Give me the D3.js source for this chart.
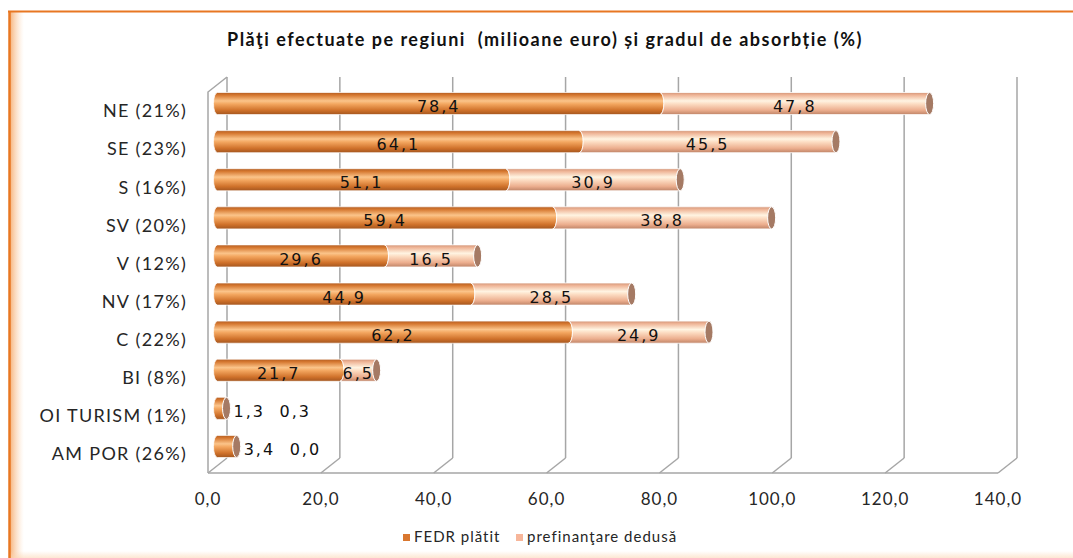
<!DOCTYPE html>
<html>
<head>
<meta charset="utf-8">
<script src="https://cdn.jsdelivr.net/npm/d3@7"></script>
<style>
  body { margin: 0; background: #fff; }
  svg { display: block; }
  text { white-space: pre; }
  .cat { font-family: Lato, "Liberation Sans", sans-serif; font-size: 18px; letter-spacing: 1.3px; fill: #262626; }
  .tick { font-family: Lato, "Liberation Sans", sans-serif; font-size: 17px; letter-spacing: 1px; fill: #262626; }
  .val { font-family: "DejaVu Sans", Verdana, sans-serif; font-size: 16px; letter-spacing: 2px; fill: #111; }
  .title { font-family: Lato, "Liberation Sans", sans-serif; font-size: 18px; font-weight: 700; letter-spacing: 1.5px; fill: #111; }
  .legend { font-family: Lato, "Liberation Sans", sans-serif; font-size: 15px; letter-spacing: 1px; fill: #262626; }
</style>
</head>
<body>
<svg id="chart" width="1073" height="558"></svg>
<script>
// data
const categories = ["NE (21%)", "SE (23%)", "S (16%)", "SV (20%)", "V (12%)",
                    "NV (17%)", "C (22%)", "BI (8%)", "OI TURISM (1%)", "AM POR (26%)"];
const fedrPlatit = [78.4, 64.1, 51.1, 59.4, 29.6, 44.9, 62.2, 21.7, 1.3, 3.4];
const prefinantare = [47.8, 45.5, 30.9, 38.8, 16.5, 28.5, 24.9, 6.5, 0.3, 0.0];
const xTicks = [0, 20, 40, 60, 80, 100, 120, 140];
const seriesNames = ["FEDR plătit", "prefinanţare dedusă"];
const title = "Plăţi efectuate pe regiuni  (milioane euro) și gradul de absorbție (%)";

const svg = d3.select("#chart");
const W = 1073, H = 558;

// back wall box and depth offset of the 3d look
const wall = {left: 227, right: 1017, top: 77, bottom: 458};
const depth = {dx: -19, dy: 15};

const x = d3.scaleLinear().domain([0, 140]).range([wall.left, wall.right]);
const y = d3.scaleBand().domain(categories).range([wall.top, wall.bottom])
  .paddingInner(0.42).paddingOuter(0.21);

const fmt = v => d3.format(".1f")(v).replace(".", ",");

// frame
const defs = svg.append("defs");
const lg = defs.append("linearGradient").attr("id", "frameL");
lg.append("stop").attr("offset", "0%").attr("stop-color", "#f4a15c").attr("stop-opacity", 0.8);
lg.append("stop").attr("offset", "100%").attr("stop-color", "#fbd7b5").attr("stop-opacity", 0);
const bg = defs.append("linearGradient").attr("id", "frameB").attr("x1", 0).attr("y1", 1).attr("x2", 0).attr("y2", 0);
bg.append("stop").attr("offset", "0%").attr("stop-color", "#fbd7b5").attr("stop-opacity", 0.6);
bg.append("stop").attr("offset", "100%").attr("stop-color", "#fbd7b5").attr("stop-opacity", 0);

svg.append("rect").attr("x", 10).attr("y", 12).attr("width", 14).attr("height", H - 12).attr("fill", "url(#frameL)");
svg.append("rect").attr("x", 10).attr("y", H - 7).attr("width", W - 10).attr("height", 7).attr("fill", "url(#frameB)");
svg.append("line").attr("x1", 8).attr("x2", W).attr("y1", 11.5).attr("y2", 11.5)
  .attr("stroke", "#e87722").attr("stroke-width", 2);
svg.append("line").attr("x1", 9.5).attr("x2", 9.5).attr("y1", 11).attr("y2", H)
  .attr("stroke", "#e87722").attr("stroke-width", 2.5);

// title
svg.append("text").attr("class", "title")
  .attr("x", 545).attr("y", 46).attr("text-anchor", "middle")
  .text(title);

// walls and grid
const grid = svg.append("g").attr("stroke", "#a6a6a6").attr("stroke-width", 1.5).attr("fill", "none");
grid.selectAll("line.v").data(xTicks).join("line").attr("class", "v")
  .attr("x1", d => x(d)).attr("x2", d => x(d))
  .attr("y1", wall.top).attr("y2", wall.bottom);
grid.selectAll("line.f").data(xTicks).join("line").attr("class", "f")
  .attr("x1", d => x(d)).attr("x2", d => x(d) + depth.dx)
  .attr("y1", wall.bottom).attr("y2", wall.bottom + depth.dy);
grid.append("line")
  .attr("x1", x(0) + depth.dx).attr("x2", x(140) + depth.dx)
  .attr("y1", wall.bottom + depth.dy).attr("y2", wall.bottom + depth.dy);
grid.append("path")
  .attr("d", `M${x(0) + depth.dx},${wall.bottom + depth.dy}V${wall.top + depth.dy}L${x(0)},${wall.top}`);

// x labels at the front edge
svg.selectAll("text.tick").data(xTicks).join("text").attr("class", "tick")
  .attr("x", d => x(d) + depth.dx).attr("y", wall.bottom + depth.dy + 32)
  .attr("text-anchor", "middle").text(fmt);

// category labels, front plane
svg.selectAll("text.cat").data(categories).join("text").attr("class", "cat")
  .attr("x", x(0) + depth.dx - 21)
  .attr("y", d => y(d) + y.bandwidth() / 2 + depth.dy)
  .attr("dy", "0.35em").attr("text-anchor", "end").text(d => d);

// cylinder gradients
function cylGrad(id, stops) {
  const g = defs.append("linearGradient").attr("id", id)
    .attr("x1", 0).attr("y1", 0).attr("x2", 0).attr("y2", 1);
  stops.forEach(s => g.append("stop").attr("offset", s[0]).attr("stop-color", s[1]));
}
cylGrad("gFedr", [["0%", "#b35d22"], ["12%", "#d67830"], ["38%", "#fbc48a"], ["52%", "#f3a65f"], ["80%", "#d0722b"], ["100%", "#a4561f"]]);
cylGrad("gPre", [["0%", "#d39578"], ["12%", "#efb597"], ["38%", "#fff4e2"], ["52%", "#fcdcc2"], ["80%", "#ecae8e"], ["100%", "#bf8467"]]);

// bars sit halfway into the depth
const bx = v => x(v) + depth.dx / 2;
const rx = 4;

function segPath(x0, x1, top, h, leftConvex) {
  const ry = h / 2;
  return `M${x0},${top}L${x1},${top}A${rx},${ry} 0 0 1 ${x1},${top + h}` +
    `L${x0},${top + h}A${rx},${ry} 0 0 ${leftConvex ? 1 : 0} ${x0},${top}Z`;
}

const rows = categories.map((c, i) => ({cat: c, f: fedrPlatit[i], p: prefinantare[i]}));
const bars = svg.append("g");
const h = y.bandwidth();

rows.forEach(r => {
  const top = y(r.cat) + depth.dy / 2;
  const g = bars.append("g");
  g.append("path")
    .attr("d", segPath(bx(0), bx(r.f), top, h, true))
    .attr("fill", "url(#gFedr)").attr("stroke", "#fff").attr("stroke-opacity", 0.7).attr("stroke-width", 1);
  if (r.p > 0) {
    g.append("path")
      .attr("d", segPath(bx(r.f), bx(r.f + r.p), top, h, false))
      .attr("fill", "url(#gPre)").attr("stroke", "#fff").attr("stroke-opacity", 0.8).attr("stroke-width", 1);
  }
  g.append("ellipse")
    .attr("cx", bx(r.f + r.p)).attr("cy", top + h / 2)
    .attr("rx", rx).attr("ry", h / 2)
    .attr("fill", "#a57a64").attr("stroke", "#fff").attr("stroke-width", 1);

  // value labels: centred in the segment, or strung out after the bar when it is too short
  const ly = top + h / 2 + 3;
  const small = bx(r.f) - bx(0) < 40;
  if (small) {
    const start = bx(r.f + r.p) + 7;
    g.append("text").attr("class", "val").attr("x", start).attr("y", ly).attr("dy", "0.35em").text(fmt(r.f));
    g.append("text").attr("class", "val").attr("x", start + 46).attr("y", ly).attr("dy", "0.35em").text(fmt(r.p));
  } else {
    g.append("text").attr("class", "val").attr("x", bx(r.f / 2)).attr("y", ly)
      .attr("dy", "0.35em").attr("text-anchor", "middle").text(fmt(r.f));
    g.append("text").attr("class", "val").attr("x", bx(r.f + r.p / 2)).attr("y", ly)
      .attr("dy", "0.35em").attr("text-anchor", "middle").text(fmt(r.p));
  }
});

// legend
const legend = svg.append("g");
const legX = [403, 516];
const legCol = ["#d9772f", "#f7b69a"];
seriesNames.forEach((s, i) => {
  legend.append("rect").attr("x", legX[i]).attr("y", 534).attr("width", 7).attr("height", 7).attr("fill", legCol[i]);
  legend.append("text").attr("class", "legend").attr("x", legX[i] + 11).attr("y", 542).text(s);
});
</script>
</body>
</html>
